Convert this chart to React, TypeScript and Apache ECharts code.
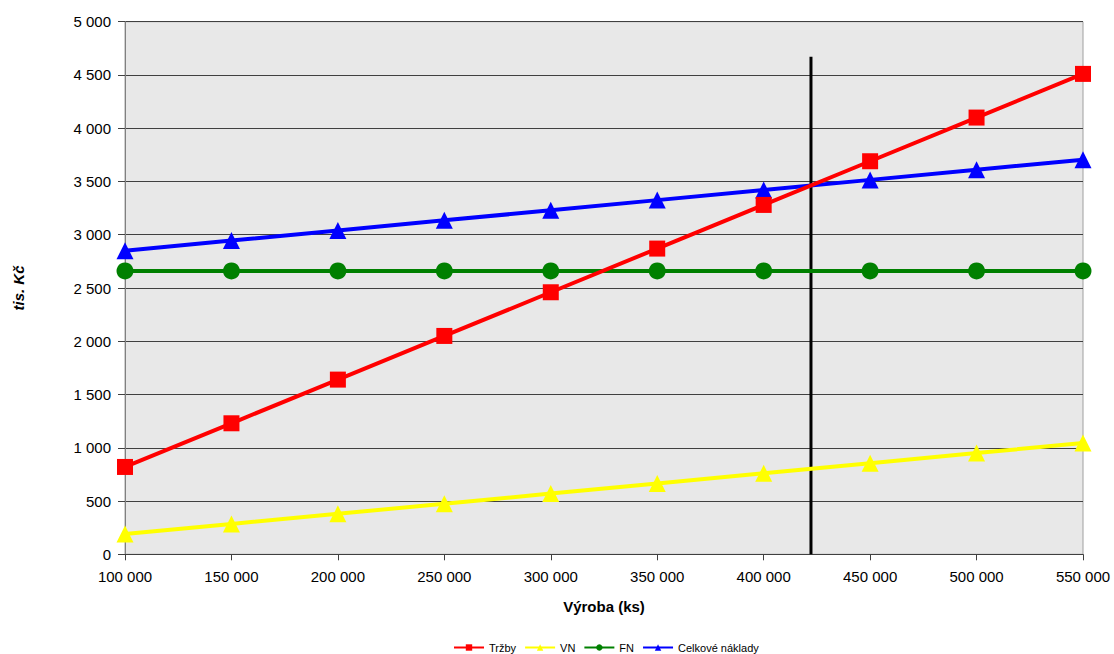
import React, { useEffect, useRef } from "react";
import * as echarts from "echarts";

// Production volume (ks)
const vyroba = [100000, 150000, 200000, 250000, 300000, 350000, 400000, 450000, 500000, 550000];
// Values in tis. Kč
const trzby = [820, 1230, 1640, 2050, 2460, 2870, 3280, 3690, 4100, 4510];
const vn = [190, 285, 380, 475, 570, 665, 760, 855, 950, 1045];
const fn = [2660, 2660, 2660, 2660, 2660, 2660, 2660, 2660, 2660, 2660];
const celkoveNaklady = [2850, 2945, 3040, 3135, 3230, 3325, 3420, 3515, 3610, 3705];
// Break-even volume marker
const bodZvratu = 422222;
const bodZvratuTop = 4670;

const fmt = (v: number) => String(Math.round(v)).replace(/\B(?=(\d{3})+(?!\d))/g, " ");

const pairs = (ys: number[]) => vyroba.map((x, i) => [x, ys[i]]);

export default function App() {
  const ref = useRef<HTMLDivElement>(null);

  useEffect(() => {
    if (!ref.current) return;
    const chart = echarts.init(ref.current, null, { renderer: "svg" });
    const font = "Arial, 'Liberation Sans', sans-serif";
    const lineSeries = (name: string, data: number[], color: string, symbol: string, size: number) => ({
      name,
      type: "line",
      data: pairs(data),
      symbol,
      symbolSize: size,
      lineStyle: { color, width: 4 },
      itemStyle: { color },
      z: 3,
    });
    chart.setOption({
      animation: false,
      textStyle: { fontFamily: font },
      grid: {
        left: 125,
        right: 31,
        top: 21.7,
        bottom: 99.7,
        show: true,
        backgroundColor: "#e8e8e8",
        borderColor: "#a0a0a0",
        borderWidth: 1,
      },
      legend: {
        left: 453,
        bottom: 1,
        padding: 0,
        itemWidth: 30,
        itemHeight: 8,
        itemGap: 8,
        textStyle: { fontSize: 11, color: "#000", fontFamily: font },
        data: ["Tržby", "VN", "FN", "Celkové náklady"],
      },
      xAxis: {
        type: "value",
        min: 100000,
        max: 550000,
        interval: 50000,
        name: "Výroba (ks)",
        nameLocation: "middle",
        nameGap: 45,
        nameTextStyle: { fontSize: 15, fontWeight: "bold", color: "#000", fontFamily: font },
        axisLine: { show: true, lineStyle: { color: "#404040", width: 1 } },
        axisTick: { show: true, length: 6, lineStyle: { color: "#404040" } },
        axisLabel: { fontSize: 15, color: "#000", margin: 15, formatter: fmt, fontFamily: font },
        splitLine: { show: false },
      },
      yAxis: {
        type: "value",
        min: 0,
        max: 5000,
        interval: 500,
        name: "tis. Kč",
        nameLocation: "middle",
        nameGap: 99,
        nameRotate: 90,
        nameTextStyle: { fontSize: 15, fontWeight: "bold", fontStyle: "italic", color: "#000", fontFamily: font },
        axisLine: { show: true, lineStyle: { color: "#808080", width: 1 } },
        axisTick: { show: true, length: 7, lineStyle: { color: "#404040" } },
        axisLabel: { fontSize: 15, color: "#000", margin: 14, formatter: fmt, fontFamily: font },
        splitLine: { show: true, lineStyle: { color: "#404040", width: 1 } },
      },
      series: [
        {
          name: "bod zvratu",
          type: "line",
          data: [
            [bodZvratu, 0],
            [bodZvratu, bodZvratuTop],
          ],
          symbol: "none",
          lineStyle: { color: "#000", width: 3 },
          silent: true,
          z: 2,
        },
        lineSeries("FN", fn, "#008000", "circle", 17),
        lineSeries("VN", vn, "#ffff00", "triangle", 17),
        lineSeries("Celkové náklady", celkoveNaklady, "#0000ff", "triangle", 17),
        lineSeries("Tržby", trzby, "#ff0000", "rect", 16),
      ],
    });
    return () => chart.dispose();
  }, []);

  return (
    <div
      ref={ref}
      style={{ position: "absolute", left: 0, top: 0, width: 1114, height: 654 }}
    />
  );
}
